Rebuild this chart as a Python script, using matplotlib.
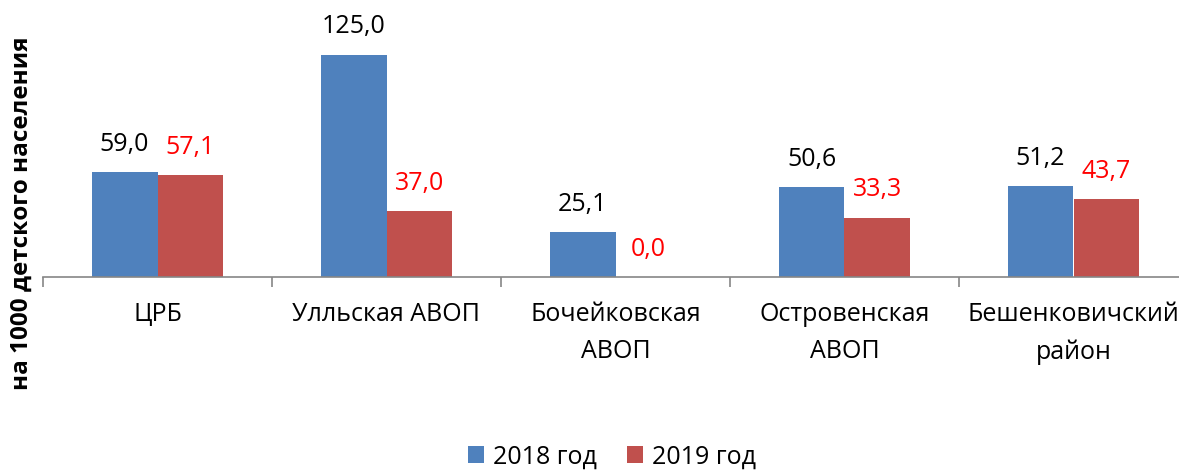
import numpy as np
import matplotlib.pyplot as plt

categories = ['ЦРБ', 'Улльская АВОП', 'Бочейковская\nАВОП', 'Островенская\nАВОП', 'Бешенковичский\nрайон']
values_2018 = [59.0, 125.0, 25.1, 50.6, 51.2]
values_2019 = [57.1, 37.0, 0.0, 33.3, 43.7]
series_names = ['2018 год', '2019 год']

blue = '#4F81BD'
red = '#C0504D'
axis_gray = '#868686'

plt.rcParams['font.family'] = ['Open Sans', 'DejaVu Sans']

fig = plt.figure(figsize=(11.79, 4.72), dpi=100)
# axes run slightly past the right edge of the figure
ax = fig.add_axes([43 / 1179, (472 - 277) / 472, 1145 / 1179, 249 / 472])

x = np.arange(len(categories))
w = 0.288
b1 = ax.bar(x - w / 2, values_2018, w, color=blue, label=series_names[0])
b2 = ax.bar(x + w / 2, values_2019, w, color=red, label=series_names[1])

for xi, v in zip(x, values_2018):
    ax.annotate(f'{v:.1f}'.replace('.', ','), (xi - w / 2, v), xytext=(0, 20),
                textcoords='offset points', ha='center', va='center',
                fontsize=18, color='black', annotation_clip=False)
for xi, v in zip(x, values_2019):
    ax.annotate(f'{v:.1f}'.replace('.', ','), (xi + w / 2, v), xytext=(0, 20),
                textcoords='offset points', ha='center', va='center',
                fontsize=18, color='#FF0000', annotation_clip=False)

ax.set_xlim(-0.5, len(categories) - 0.5)
ax.set_ylim(0, 140)

for side in ['top', 'right', 'left']:
    ax.spines[side].set_visible(False)
ax.spines['bottom'].set_color(axis_gray)
ax.spines['bottom'].set_linewidth(1.2)

ax.set_yticks([])
ax.set_xticks(x)
ax.set_xticklabels(categories, fontsize=18, linespacing=1.65)
ax.tick_params(axis='x', which='major', length=0, pad=18)
ax.set_xticks(np.arange(-0.5, len(categories), 1.0), minor=True)
ax.tick_params(axis='x', which='minor', length=7, color=axis_gray, width=1.2)

fig.text(22 / 1179, 1 - 213 / 472, 'на 1000 детского населения', rotation=90,
         ha='center', va='center', fontsize=17.5, fontweight='bold')

fig.legend(handles=[b1, b2], loc='center', bbox_to_anchor=(612 / 1179, 1 - 457 / 472),
           ncol=2, frameon=False, fontsize=18, handlelength=0.65, handleheight=0.65,
           handletextpad=0.35, columnspacing=1.2, borderpad=0.2)

fig.savefig('out.png', dpi=100)
